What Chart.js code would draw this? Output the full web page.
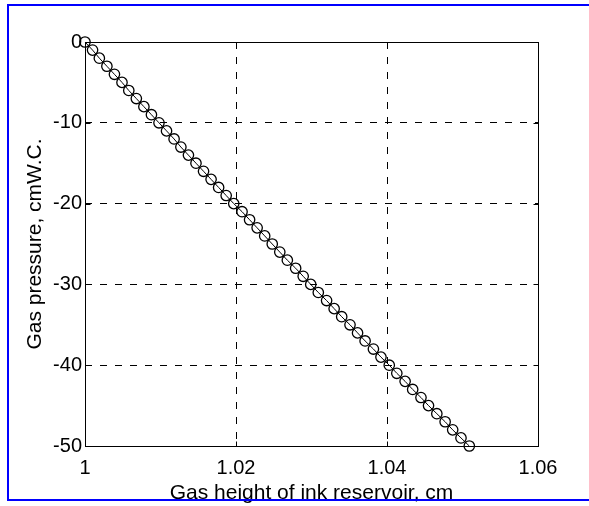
<!DOCTYPE html>
<html>
<head>
<meta charset="utf-8">
<script src="https://cdn.jsdelivr.net/npm/chart.js@4.4.0/dist/chart.umd.min.js"></script>
<style>
  html, body { margin: 0; padding: 0; background: #fff; overflow: hidden; }
  #wrap { width: 589px; height: 506px; position: relative; }
</style>
</head>
<body>
<div id="wrap"><canvas id="c"></canvas></div>
<script>
// gas height of ink reservoir (cm) and gas pressure (cmW.C.)
const gasHeight = [
  1.0000, 1.0010, 1.0019, 1.0029, 1.0039, 1.0049, 1.0058, 1.0068, 1.0078, 1.0088,
  1.0098, 1.0108, 1.0118, 1.0127, 1.0137, 1.0147, 1.0157, 1.0167, 1.0177, 1.0187,
  1.0197, 1.0208, 1.0218, 1.0228, 1.0238, 1.0248, 1.0258, 1.0268, 1.0279, 1.0289,
  1.0299, 1.0309, 1.0320, 1.0330, 1.0340, 1.0351, 1.0361, 1.0371, 1.0382, 1.0392,
  1.0403, 1.0413, 1.0424, 1.0434, 1.0445, 1.0455, 1.0466, 1.0477, 1.0487, 1.0498,
  1.0509
];
const gasPressure = [
  0, -1, -2, -3, -4, -5, -6, -7, -8, -9,
  -10, -11, -12, -13, -14, -15, -16, -17, -18, -19,
  -20, -21, -22, -23, -24, -25, -26, -27, -28, -29,
  -30, -31, -32, -33, -34, -35, -36, -37, -38, -39,
  -40, -41, -42, -43, -44, -45, -46, -47, -48, -49,
  -50
];
const xTicks = [1, 1.02, 1.04, 1.06];
const xTickLabels = ["1", "1.02", "1.04", "1.06"];
const yTicks = [-50, -40, -30, -20, -10, 0];
const yTickLabels = ["-50", "-40", "-30", "-20", "-10", "0"];

const font = { family: "'Liberation Sans', Arial, sans-serif", size: 20 };
const titleFont = { family: "'Liberation Sans', Arial, sans-serif", size: 21 };

// frame, inward ticks and the blue page border
const framePlugin = {
  id: "frame",
  beforeDatasetsDraw(chart) {
    const ctx = chart.ctx, a = chart.chartArea;
    const sx = chart.scales.x, sy = chart.scales.y;
    const L = Math.round(a.left) + 0.5, R = Math.round(a.right) + 0.5;
    const T = Math.round(a.top) + 0.5, B = Math.round(a.bottom) + 0.5;
    ctx.save();
    ctx.strokeStyle = "#000";
    ctx.lineWidth = 1;
    ctx.strokeRect(L, T, R - L, B - T);
    ctx.beginPath();
    xTicks.forEach(v => {
      const px = Math.round(sx.getPixelForValue(v)) + 0.5;
      ctx.moveTo(px, B); ctx.lineTo(px, B - 5);
      ctx.moveTo(px, T); ctx.lineTo(px, T + 5);
    });
    yTicks.forEach(v => {
      const py = Math.round(sy.getPixelForValue(v)) + 0.5;
      ctx.moveTo(L, py); ctx.lineTo(L + 5, py);
      ctx.moveTo(R, py); ctx.lineTo(R - 5, py);
    });
    ctx.stroke();
    ctx.restore();
  },
  afterDraw(chart) {
    const ctx = chart.ctx;
    ctx.save();
    ctx.strokeStyle = "#0000ff";
    ctx.lineWidth = 2;
    ctx.beginPath();
    ctx.moveTo(589, 5); ctx.lineTo(8, 5); ctx.lineTo(8, 500); ctx.lineTo(589, 500);
    ctx.stroke();
    ctx.restore();
  }
};

new Chart(document.getElementById("c"), {
  type: "scatter",
  data: {
    datasets: [{
      data: gasHeight.map((h, i) => ({ x: h, y: gasPressure[i] })),
      showLine: true,
      borderColor: "#000",
      borderWidth: 1,
      pointStyle: "circle",
      pointRadius: 5.2,
      pointBorderWidth: 1.3,
      pointBorderColor: "#000",
      pointBackgroundColor: "rgba(0,0,0,0)",
      clip: false
    }]
  },
  options: {
    responsive: true,
    maintainAspectRatio: false,
    animation: false,
    devicePixelRatio: 1,
    layout: { padding: { top: 42, right: 51, left: 0, bottom: 0 } },
    plugins: { legend: { display: false }, tooltip: { enabled: false } },
    scales: {
      x: {
        type: "linear",
        min: 1,
        max: 1.06,
        afterBuildTicks: s => { s.ticks = xTicks.map(v => ({ value: v })); },
        afterFit: s => { s.height = 60; },
        ticks: {
          callback: (v, i) => xTickLabels[i],
          font: font,
          color: "#000",
          padding: 10,
          maxRotation: 0,
          autoSkip: false
        },
        grid: { color: "#000", lineWidth: 1, drawTicks: false },
        border: { display: false, dash: [7, 8] },
        title: {
          display: true,
          text: "Gas height of ink reservoir, cm",
          font: titleFont,
          color: "#000",
          padding: { top: 0, bottom: 0 }
        }
      },
      y: {
        type: "linear",
        min: -50,
        max: 0,
        afterBuildTicks: s => { s.ticks = yTicks.map(v => ({ value: v })); },
        afterFit: s => { s.width = 85; },
        ticks: {
          callback: (v, i) => yTickLabels[i],
          font: font,
          color: "#000",
          padding: 3,
          autoSkip: false
        },
        grid: { color: "#000", lineWidth: 1, drawTicks: false },
        border: { display: false, dash: [7, 8] },
        title: {
          display: true,
          text: "Gas pressure, cmW.C.",
          font: titleFont,
          color: "#000",
          padding: { top: 23, bottom: 23 }
        }
      }
    }
  },
  plugins: [framePlugin]
});
</script>
</body>
</html>
